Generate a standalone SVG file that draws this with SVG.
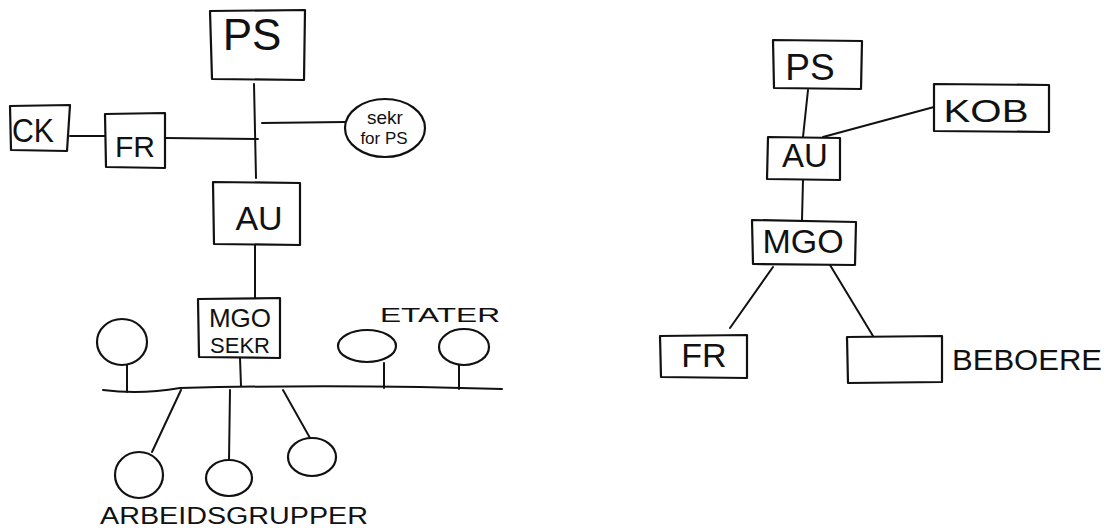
<svg xmlns="http://www.w3.org/2000/svg" width="1113" height="528" viewBox="0 0 1113 528">
<style>
.b{fill:none;stroke:#111;stroke-width:2.2;stroke-linejoin:round;stroke-linecap:round}
.c{fill:none;stroke:#111;stroke-width:2;stroke-linecap:round}
.t{font-family:"Liberation Sans",Arial,sans-serif;fill:#111;text-anchor:middle}
</style>
<rect width="1113" height="528" fill="#fff"/>
<g id="connectors">
<path class="c" d="M254 84 L256 178"/>
<path class="c" d="M70 136 L105 136"/>
<path class="c" d="M165 138 L258 139"/>
<path class="c" d="M262 123 L345 122"/>
<path class="c" d="M255 245 L255 298"/>
<path class="c" d="M240 358 L241 386"/>
<path class="c" d="M103 390 Q140 395 180 388 Q300 385 420 387 L502 389"/>
<path class="c" d="M127 365 L127 392"/>
<path class="c" d="M384 363 L384 388"/>
<path class="c" d="M459 365 L459 389"/>
<path class="c" d="M181 390 L152 452"/>
<path class="c" d="M230 390 L229 460"/>
<path class="c" d="M283 390 L310 438"/>
<path class="c" d="M808 90 L803 137"/>
<path class="c" d="M823 137 L934 107"/>
<path class="c" d="M803 180 L802 220"/>
<path class="c" d="M773 267 L730 328"/>
<path class="c" d="M830 265 L873 336"/>
</g>
<g id="ps-left"><path class="b" d="M210 11 L305 10 L304 80 L212 79 Z"/><text class="t" x="252" y="50" font-size="44">PS</text></g>
<g id="ck"><path class="b" d="M10 106 L70 105 L67 151 L11 150 Z"/><text class="t" x="33" y="142" font-size="34" textLength="42" lengthAdjust="spacingAndGlyphs">CK</text></g>
<g id="fr-left"><path class="b" d="M105 114 L165 113 L165 168 L106 167 Z"/><text class="t" x="135" y="157" font-size="30">FR</text></g>
<g id="sekr"><ellipse class="b" cx="385" cy="128" rx="40" ry="29"/><text class="t" x="385" y="124" font-size="19">sekr</text><text class="t" x="384" y="144" font-size="17">for PS</text></g>
<g id="au-left"><path class="b" d="M213 182 L300 183 L300 245 L214 244 Z"/><text class="t" x="259" y="230" font-size="34">AU</text></g>
<g id="mgo-sekr"><path class="b" d="M198 299 L280 298 L280 358 L199 357 Z"/><text class="t" x="240" y="327" font-size="26">MGO</text><text class="t" x="240" y="353" font-size="22">SEKR</text></g>
<g id="etat1"><ellipse class="b" cx="122" cy="342" rx="25" ry="23"/></g>
<g id="etat2"><ellipse class="b" cx="367" cy="346" rx="29" ry="16"/></g>
<g id="etat3"><ellipse class="b" cx="464" cy="347" rx="25" ry="18"/></g>
<text class="t" x="440" y="322" font-size="21" textLength="120" lengthAdjust="spacingAndGlyphs">ETATER</text>
<g id="ag1"><ellipse class="b" cx="139" cy="475" rx="24" ry="23"/></g>
<g id="ag2"><ellipse class="b" cx="229" cy="478" rx="23" ry="18"/></g>
<g id="ag3"><ellipse class="b" cx="312" cy="457" rx="24" ry="19"/></g>
<text class="t" x="234" y="524" font-size="23" textLength="268" lengthAdjust="spacingAndGlyphs">ARBEIDSGRUPPER</text>
<g id="ps-right"><path class="b" d="M773 40 L862 41 L861 89 L774 88 Z"/><text class="t" x="810" y="80" font-size="37">PS</text></g>
<g id="kob"><path class="b" d="M934 84 L1049 85 L1049 132 L934 131 Z"/><text class="t" x="986" y="122" font-size="31" textLength="85" lengthAdjust="spacingAndGlyphs">KOB</text></g>
<g id="au-right"><path class="b" d="M768 137 L840 138 L840 180 L767 179 Z"/><text class="t" x="805" y="167" font-size="33">AU</text></g>
<g id="mgo-right"><path class="b" d="M752 220 L856 222 L855 265 L753 264 Z"/><text class="t" x="803" y="253" font-size="34">MGO</text></g>
<g id="fr-right"><path class="b" d="M660 336 L747 335 L747 378 L661 377 Z"/><text class="t" x="704" y="367" font-size="34">FR</text></g>
<g id="beboere"><path class="b" d="M847 337 L942 336 L942 382 L848 383 Z"/></g>
<text class="t" x="1027" y="370" font-size="30" textLength="150" lengthAdjust="spacingAndGlyphs">BEBOERE</text>
</svg>
